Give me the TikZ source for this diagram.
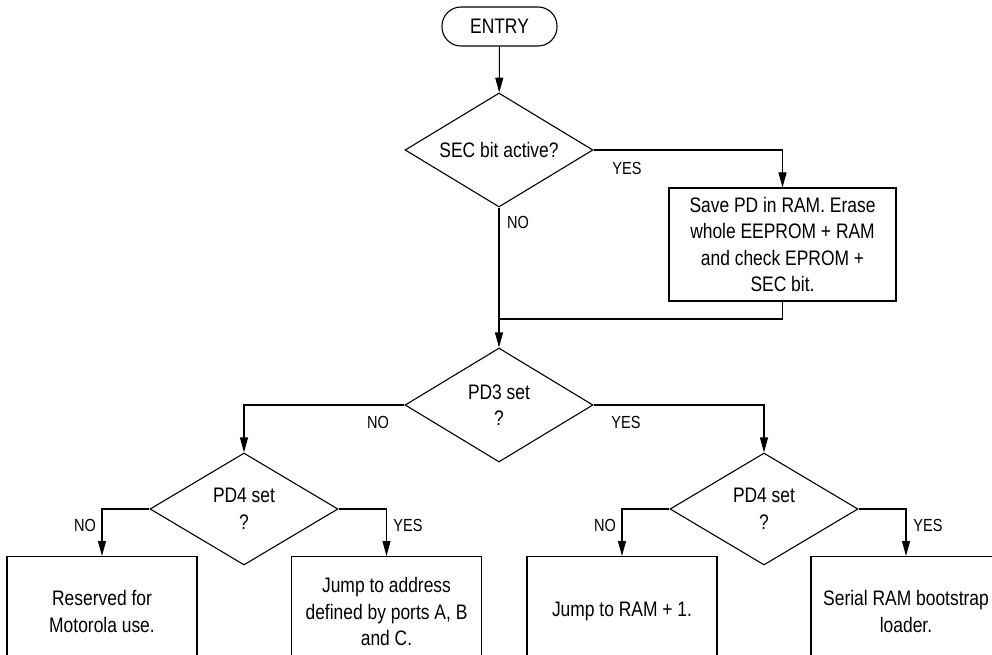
\documentclass[tikz,border=0pt]{standalone}
\usepackage{fontspec}
\setmainfont[FakeStretch=0.83]{Liberation Sans}
\usetikzlibrary{shapes.geometric,arrows.meta}
\begin{document}
\begin{tikzpicture}[x=1pt,y=-1pt,
  line width=1.1pt,
  every node/.style={font=\fontsize{21}{26.5}\selectfont},
  dec/.style={draw, diamond, aspect=1.65, minimum width=188pt, minimum height=114pt, inner sep=0pt, align=center},
  proc/.style={draw, rectangle, minimum width=190pt, inner sep=0pt, align=center},
  term/.style={draw, rectangle, rounded corners=19pt, minimum width=115pt, minimum height=39pt},
  lbl/.style={font=\fontsize{17.5}{21}\selectfont, inner sep=0pt},
  arr/.style={-{Triangle[length=15pt,width=8pt]}}
]
\useasboundingbox (0,0) rectangle (992,655);
\clip (0,0) rectangle (992,655);

\node[term] (entry) at (499.5,26.5) {ENTRY};
\node[dec] (sec) at (499,150) {SEC bit active?};
\node[proc, minimum width=227pt, minimum height=113pt] (save) at (782.5,244.5)
  {Save PD in RAM. Erase\\whole EEPROM + RAM\\and check EPROM +\\SEC bit.};
\node[dec] (pd3) at (499,405) {PD3 set\\?};
\node[dec, minimum height=112pt] (pd4l) at (244,509) {PD4 set\\?};
\node[dec, minimum height=112pt] (pd4r) at (764,509) {PD4 set\\?};

\node[proc, minimum height=110pt, anchor=north] (b1) at (102,556) {Reserved for\\Motorola use.};
\node[proc, minimum height=110pt, anchor=north] (b2) at (386.5,556) {Jump to address\\defined by ports A, B\\and C.};
\node[proc, minimum height=110pt, anchor=north] (b3) at (622,556) {Jump to RAM + 1.};
\node[proc, minimum height=110pt, anchor=north] (b4) at (906,556) {Serial RAM bootstrap\\loader.};

\coordinate (join) at (499,319);

\draw[arr] (entry) -- (sec);
\draw[arr] (sec.east) -| (save.north);
\draw[arr] (sec.south) -- (pd3.north);
\draw (save.south) |- (join);
\draw[arr] (pd3.west) -| (pd4l.north);
\draw[arr] (pd3.east) -| (pd4r.north);
\draw[arr] (pd4l.west) -| (b1.north);
\draw[arr] (pd4l.east) -| (b2.north);
\draw[arr] (pd4r.west) -| (b3.north);
\draw[arr] (pd4r.east) -| (b4.north);

\node[lbl] (l1) at (627,168) {YES};
\node[lbl] (l2) at (518,222) {NO};
\node[lbl] (l3) at (378,422) {NO};
\node[lbl] (l4) at (626,422) {YES};
\node[lbl] (l5) at (85,525) {NO};
\node[lbl] (l6) at (408,525) {YES};
\node[lbl] (l7) at (605,525) {NO};
\node[lbl] (l8) at (928,525) {YES};
\end{tikzpicture}
\end{document}
